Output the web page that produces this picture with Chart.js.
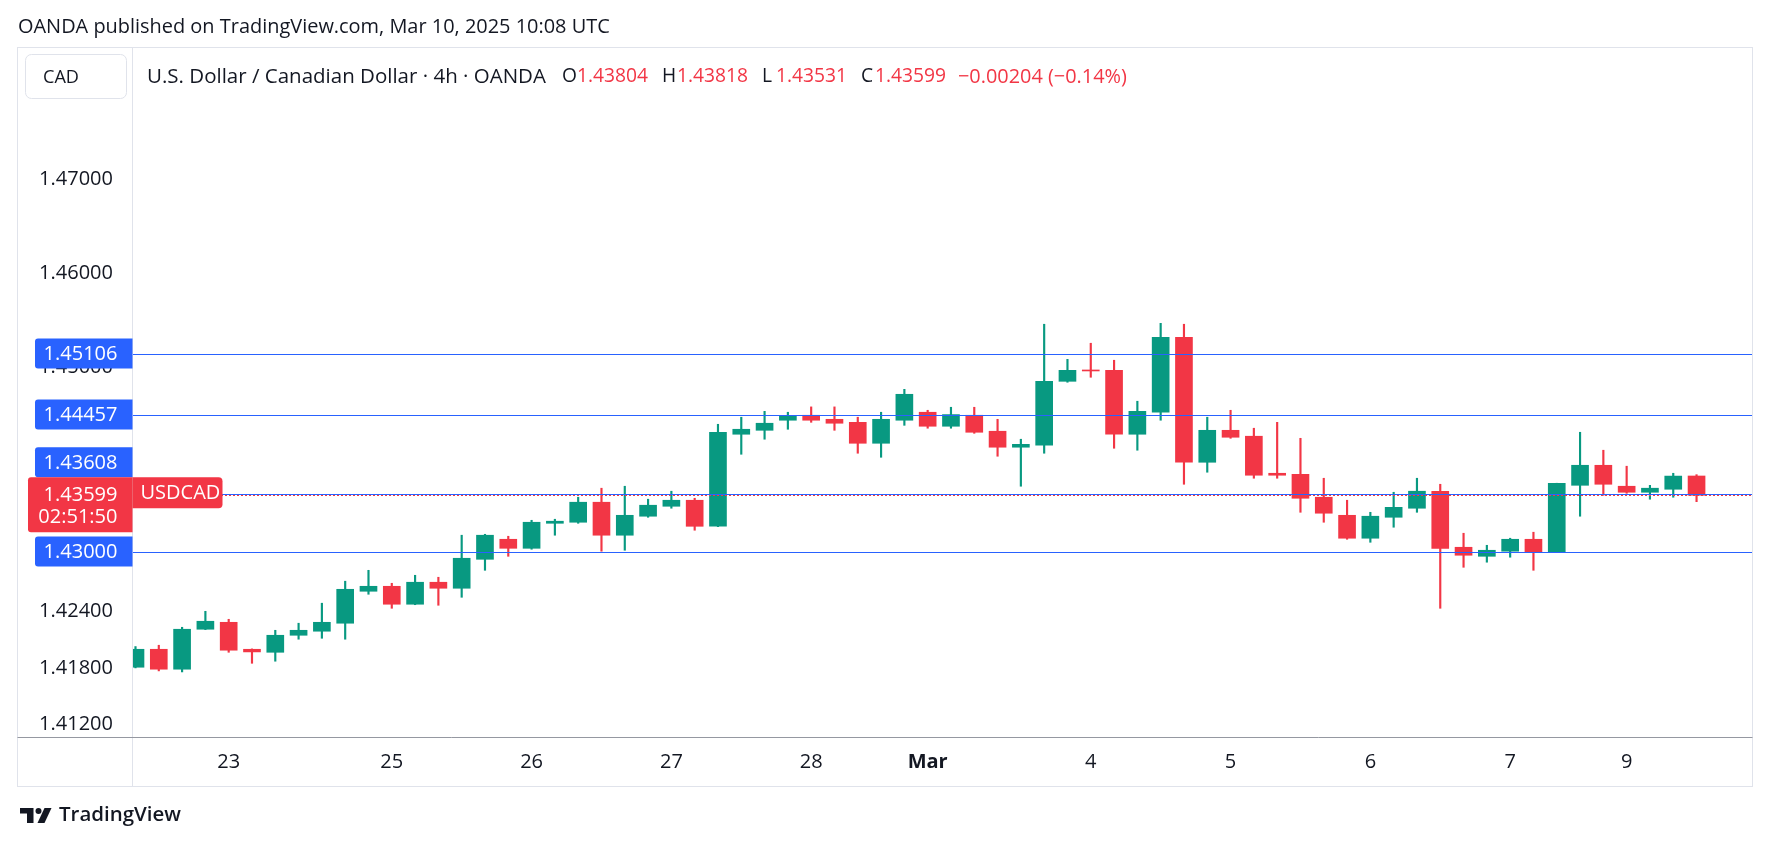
<!DOCTYPE html>
<html>
<head>
<meta charset="utf-8">
<script src="https://cdn.jsdelivr.net/npm/chart.js@4.4.1/dist/chart.umd.min.js"></script>
<style>
html,body{margin:0;padding:0;background:#fff;overflow:hidden}
canvas{display:block}
</style>
</head>
<body>
<canvas id="c" width="1771" height="846"></canvas>
<script>
// ---- DATA (USD/CAD, 4h candles, OANDA) ----
const opens  = [1.41770,1.41961,1.41749,1.42174,1.42248,1.41961,1.41929,1.42110,1.42153,1.42238,
                1.42578,1.42631,1.42440,1.42674,1.42610,1.42918,1.43131,1.43035,1.43301,1.43312,
                1.43525,1.43174,1.43376,1.43482,1.43546,1.43269,1.44248,1.44290,1.44397,1.44450,
                1.44407,1.44375,1.44152,1.44397,1.44482,1.44333,1.44450,1.44280,1.44110,1.44131,
                1.44811,1.44928,1.44928,1.44248,1.44482,1.45279,1.43950,1.44290,1.44227,1.43833,
                1.43822,1.43578,1.43386,1.43142,1.43365,1.43461,1.43642,1.43046,1.42950,1.43004,
                1.43131,1.42993,1.43705,1.43918,1.43695,1.43631,1.43663,1.43804];
const highs  = [1.41990,1.42004,1.42195,1.42365,1.42280,1.41965,1.42163,1.42238,1.42451,1.42685,
                1.42801,1.42663,1.42748,1.42727,1.43174,1.43184,1.43163,1.43333,1.43344,1.43578,
                1.43674,1.43695,1.43557,1.43642,1.43567,1.44354,1.44429,1.44492,1.44482,1.44539,
                1.44539,1.44429,1.44482,1.44726,1.44503,1.44535,1.44535,1.44407,1.44195,1.45418,
                1.45045,1.45216,1.45035,1.44599,1.45428,1.45418,1.44429,1.44503,1.44312,1.44375,
                1.44205,1.43780,1.43546,1.43418,1.43631,1.43780,1.43716,1.43195,1.43067,1.43142,
                1.43206,1.43727,1.44269,1.44078,1.43908,1.43705,1.43833,1.43818];
const lows   = [1.41763,1.41731,1.41720,1.42170,1.41929,1.41812,1.41834,1.42068,1.42078,1.42068,
                1.42546,1.42397,1.42435,1.42429,1.42514,1.42801,1.42950,1.43025,1.43174,1.43301,
                1.43004,1.43014,1.43365,1.43461,1.43227,1.43265,1.44035,1.44195,1.44301,1.44375,
                1.44290,1.44046,1.44003,1.44343,1.44312,1.44312,1.44258,1.44014,1.43695,1.44046,
                1.44801,1.44854,1.44099,1.44078,1.44397,1.43716,1.43844,1.44205,1.43780,1.43780,
                1.43418,1.43312,1.43131,1.43099,1.43259,1.43418,1.42397,1.42833,1.42887,1.42940,
                1.42801,1.42993,1.43376,1.43599,1.43620,1.43557,1.43578,1.43531];
const closes = [1.41961,1.41749,1.42174,1.42259,1.41951,1.41933,1.42110,1.42163,1.42248,1.42599,
                1.42631,1.42440,1.42674,1.42610,1.42929,1.43174,1.43035,1.43312,1.43323,1.43525,
                1.43174,1.43386,1.43493,1.43546,1.43269,1.44269,1.44301,1.44365,1.44439,1.44397,
                1.44365,1.44152,1.44407,1.44673,1.44333,1.44457,1.44269,1.44110,1.44141,1.44811,
                1.44928,1.44921,1.44248,1.44492,1.45279,1.43950,1.44290,1.44216,1.43812,1.43812,
                1.43567,1.43408,1.43142,1.43376,1.43471,1.43642,1.43035,1.42961,1.43014,1.43131,
                1.42993,1.43727,1.43918,1.43716,1.43631,1.43674,1.43803,1.43599];
const dayTickIndex  = [4, 11, 17, 23, 29, 34, 41, 47, 53, 59, 64];
const dayTickLabels = ['23','25','26','27','28','Mar','4','5','6','7','9'];
const priceTicks = [1.47, 1.46, 1.45, 1.44, 1.43, 1.424, 1.418, 1.412];
const levelLines = [1.45106, 1.44457, 1.43608, 1.43000];
const countdown = '02:51:50';

// ---- STYLE ----
const UP = '#089981', DOWN = '#f23645', BLUE = '#2962ff', TEXT = '#131722';
const FONT = '"Open Sans", "Noto Sans", sans-serif';
const mctx = document.createElement('canvas').getContext('2d');
function fit(text, target, weight) {
  mctx.font = (weight || 'normal') + ' 100px ' + FONT;
  return 100 * target / mctx.measureText(text).width;
}
const n = opens.length;
const colors = opens.map((o, i) => closes[i] >= o ? UP : DOWN);
const last = closes[n - 1];
const change = last - closes[n - 2];
const pct = change / closes[n - 2] * 100;
const sign = v => (v < 0 ? '\u2212' : '+');
const CHANGE_TXT = sign(change) + Math.abs(change).toFixed(5) + ' (' + sign(pct) + Math.abs(pct).toFixed(2) + '%)';

const TITLE = 'U.S. Dollar / Canadian Dollar \u00b7 4h \u00b7 OANDA';
const tickSize = fit('1.47000', 74);
const headerSize = fit('OANDA published on TradingView.com, Mar 10, 2025 10:08 UTC', 592);
const titleSize = fit(TITLE, 399);
const legendSize = fit('1.43804', 71);
const changeSize = fit(CHANGE_TXT, 169);
const cadSize = fit('CAD', 36);
const footSize = fit('TradingView', 122, '600');

const overlay = {
  id: 'overlay',
  beforeDraw(chart) {
    const c = chart.ctx;
    c.save(); c.fillStyle = '#fff'; c.fillRect(0, 0, chart.width, chart.height); c.restore();
  },
  afterDatasetsDraw(chart) {
    const c = chart.ctx, a = chart.chartArea, y = chart.scales.y;
    c.save();
    c.beginPath(); c.rect(a.left, a.top, a.right - a.left, a.bottom - a.top); c.clip();
    c.lineWidth = 1.2; c.strokeStyle = BLUE;
    levelLines.forEach(v => {
      const py = Math.round(y.getPixelForValue(v)) + 0.5;
      c.beginPath(); c.moveTo(a.left, py); c.lineTo(a.right, py); c.stroke();
    });
    const pl = Math.round(y.getPixelForValue(last)) + 0.5;
    c.strokeStyle = DOWN; c.lineWidth = 1; c.setLineDash([2, 2]);
    c.beginPath(); c.moveTo(a.left, pl); c.lineTo(a.right, pl); c.stroke();
    c.restore();
  },
  afterDraw(chart) {
    const c = chart.ctx, a = chart.chartArea, y = chart.scales.y;
    const frameL = 17.5, frameT = 47.5, frameR = 1752.5, frameB = 786.5;
    c.save();
    // axis lines and frame
    c.strokeStyle = '#e0e3eb'; c.lineWidth = 1;
    c.beginPath(); c.moveTo(a.left - 0.5, frameT); c.lineTo(a.left - 0.5, frameB); c.stroke();
    c.strokeRect(frameL, frameT, frameR - frameL, frameB - frameT);
    c.strokeStyle = '#9598a1';
    c.beginPath(); c.moveTo(frameL, a.bottom + 0.5); c.lineTo(frameR, a.bottom + 0.5); c.stroke();

    // badges
    const badgeFont = 'normal ' + tickSize + 'px ' + FONT;
    const axR = a.left - 0.5;
    function badge(cy, text, color, left) {
      c.fillStyle = color;
      c.beginPath(); c.roundRect(left, cy - 15, axR - left, 30, [3, 0, 0, 3]); c.fill();
      c.fillStyle = '#fff'; c.font = badgeFont; c.textAlign = 'right'; c.textBaseline = 'middle';
      c.fillText(text, 117.5, cy + 1);
    }
    const lastPy = y.getPixelForValue(last);
    const redTop = lastPy - 18;
    levelLines.forEach(v => {
      let cy = y.getPixelForValue(v);
      if (Math.abs(cy - lastPy) < 20) cy = redTop - 15;
      badge(cy, v.toFixed(5), BLUE, 35);
    });
    // last price badge
    c.fillStyle = DOWN;
    c.beginPath(); c.roundRect(28, redTop, axR - 28, 55, [3, 0, 0, 3]); c.fill();
    c.fillStyle = '#fff'; c.font = badgeFont; c.textAlign = 'right'; c.textBaseline = 'middle';
    c.fillText(last.toFixed(5), 117.5, lastPy);
    c.fillText(countdown, 117.5, redTop + 40.5);
    // symbol tag
    c.fillStyle = DOWN;
    c.beginPath(); c.roundRect(axR, redTop, 90, 31, [0, 4, 4, 0]); c.fill();
    c.fillStyle = '#fff'; c.textAlign = 'left';
    c.fillText('USDCAD', axR + 8, redTop + 16);

    // header
    c.fillStyle = TEXT; c.textAlign = 'left'; c.textBaseline = 'middle';
    c.font = 'normal ' + headerSize + 'px ' + FONT;
    c.fillText('OANDA published on TradingView.com, Mar 10, 2025 10:08 UTC', 18, 27.5);

    // CAD box
    c.fillStyle = '#fff'; c.strokeStyle = '#e0e3eb';
    c.beginPath(); c.roundRect(25.5, 54.5, 101, 44, 6); c.fill(); c.stroke();
    c.fillStyle = TEXT; c.font = 'normal ' + cadSize + 'px ' + FONT;
    c.fillText('CAD', 43, 77.5);

    // legend line
    const ly = 77;
    c.font = 'normal ' + titleSize + 'px ' + FONT;
    c.fillStyle = TEXT; c.fillText(TITLE, 147, ly);
    c.font = 'normal ' + legendSize + 'px ' + FONT;
    const segs = [
      ['O', TEXT, 562], [opens[n - 1].toFixed(5), DOWN, 577],
      ['H', TEXT, 662], [highs[n - 1].toFixed(5), DOWN, 677],
      ['L', TEXT, 762], [lows[n - 1].toFixed(5), DOWN, 776],
      ['C', TEXT, 861], [last.toFixed(5), DOWN, 875]
    ];
    segs.forEach(([t, col, x]) => { c.fillStyle = col; c.fillText(t, x, ly); });
    c.font = 'normal ' + changeSize + 'px ' + FONT;
    c.fillStyle = DOWN; c.fillText(CHANGE_TXT, 958, ly);

    // footer logo
    c.fillStyle = TEXT;
    c.fillRect(20, 808, 13, 5.5);
    c.fillRect(27, 808, 6.5, 15);
    c.beginPath(); c.arc(38.5, 811, 3, 0, Math.PI * 2); c.fill();
    c.beginPath(); c.moveTo(44.5, 808); c.lineTo(51.5, 808); c.lineTo(44.5, 823); c.lineTo(37.5, 823); c.closePath(); c.fill();
    c.font = '600 ' + footSize + 'px ' + FONT;
    c.fillText('TradingView', 59, 815.5);
    c.restore();
  }
};

const wickData = opens.map((o, i) => ({ x: i, y: [lows[i], highs[i]] }));
const bodyData = opens.map((o, i) => ({ x: i, y: [o, closes[i]] }));

new Chart(document.getElementById('c'), {
  type: 'bar',
  data: {
    datasets: [
      { label: 'wick', data: wickData, backgroundColor: colors, barThickness: 1.5, grouped: false, order: 2 },
      { label: 'body', data: bodyData, backgroundColor: colors, barThickness: 17, minBarLength: 1, grouped: false, order: 1 }
    ]
  },
  options: {
    responsive: false,
    devicePixelRatio: 1,
    animation: false,
    events: [],
    layout: { padding: { left: 17, top: 48, right: 19, bottom: 60 } },
    plugins: { legend: { display: false }, tooltip: { enabled: false }, title: { display: false } },
    scales: {
      x: {
        type: 'linear', offset: false,
        min: -0.107, max: 69.38,
        grid: { display: false }, border: { display: false },
        afterBuildTicks: s => { s.ticks = dayTickIndex.map(v => ({ value: v })); },
        afterFit: s => { s.height = 49; },
        ticks: {
          autoSkip: false, maxRotation: 0, minRotation: 0,
          padding: 17 - 0.6 * tickSize,
          color: TEXT,
          font: ctx => ({ family: FONT, size: tickSize, weight: (ctx.tick && dayTickLabels[dayTickIndex.indexOf(ctx.tick.value)] === 'Mar') ? 'bold' : 'normal' }),
          callback: v => dayTickLabels[dayTickIndex.indexOf(v)]
        }
      },
      y: {
        type: 'linear', position: 'left',
        min: 1.41028, max: 1.48356,
        grid: { display: false }, border: { display: false },
        afterBuildTicks: s => { s.ticks = priceTicks.map(v => ({ value: v })); },
        afterFit: s => { s.width = 116; },
        ticks: {
          autoSkip: false, padding: 12, labelOffset: 3.5, color: TEXT,
          font: { family: FONT, size: tickSize },
          callback: v => v.toFixed(5)
        }
      }
    }
  },
  plugins: [overlay]
});
</script>
</body>
</html>
